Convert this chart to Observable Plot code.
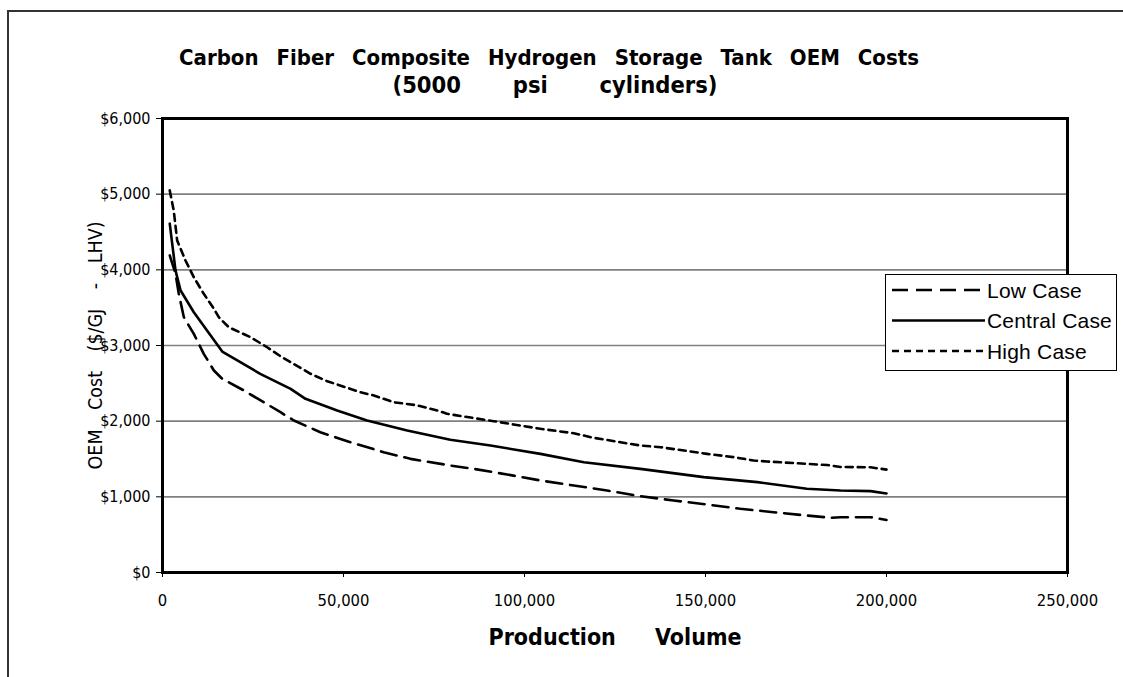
<!DOCTYPE html>
<html>
<head>
<meta charset="utf-8">
<script src="https://cdn.jsdelivr.net/npm/d3@7"></script>
<script src="https://cdn.jsdelivr.net/npm/@observablehq/plot@0.6"></script>
<style>
  html, body { margin: 0; padding: 0; background: #fff; }
  #wrap { position: relative; width: 1123px; height: 677px; overflow: hidden; background:#fff; }
  #outer { position: absolute; left: 7px; top: 10px; width: 1200px; height: 700px;
           border-left: 2px solid #333; border-top: 2px solid #333; pointer-events: none; }
  #legend { position: absolute; left: 0; top: 0; }
</style>
</head>
<body>
<div id="wrap"><div id="outer"></div></div>
<script>
// ---- data ----
const titleLines = ["Carbon Fiber Composite Hydrogen Storage Tank OEM Costs", "(5000 psi cylinders)"];
const yLabel = "OEM Cost ($/GJ - LHV)";
const xLabel = "Production Volume";
const xTicks = [0, 50000, 100000, 150000, 200000, 250000];
const yTicks = [0, 1000, 2000, 3000, 4000, 5000, 6000];
const seriesNames = ["Low Case", "Central Case", "High Case"];

const lowVolume = [2000,3600,4500,5900,8650,11400,14200,16500,22500,28000,32600,36300,43600,51900,61100,68500,79500,86000,95200,104400,113600,122800,132000,141200,150400,159600,168800,178000,184500,187300,195600,200000];
const lowCost   = [4190,3947,3683,3374,3154,2890,2669,2560,2405,2250,2118,2009,1854,1722,1590,1502,1414,1370,1295,1216,1150,1084,1008,951,899,842,797,753,723,731,731,695];

const centralVolume = [2000,3600,5000,8650,12300,16500,27000,35400,39500,48250,56500,67600,79500,90600,104400,116400,132000,149500,164300,178000,187300,195600,200000];
const centralCost   = [4610,3990,3727,3440,3198,2920,2626,2427,2295,2141,2009,1877,1754,1678,1568,1458,1370,1260,1194,1106,1084,1075,1045];

const highVolume = [2000,3100,4050,6350,8650,11400,14200,15550,18300,24300,28900,33000,40900,45500,54700,58400,63900,70300,75900,78600,83200,91500,97000,104400,113600,119100,126500,132000,137600,150400,157800,163300,167000,183600,187300,195600,200000];
const highCost   = [5050,4784,4387,4123,3902,3683,3485,3374,3242,3110,2977,2845,2626,2528,2383,2339,2250,2210,2141,2097,2062,2000,1956,1899,1840,1780,1722,1678,1656,1568,1524,1480,1467,1420,1395,1390,1360];

const dashes = {"Low Case": "16,8", "Central Case": null, "High Case": "7,5"};

function rows(name, xs, ys) { return xs.map((v, i) => ({series: name, volume: v, cost: ys[i]})); }
const low = rows("Low Case", lowVolume, lowCost);
const central = rows("Central Case", centralVolume, centralCost);
const high = rows("High Case", highVolume, highCost);

const FONT = "'DejaVu Sans Condensed', 'DejaVu Sans', sans-serif";
const fmt = d3.format(",");

const chart = Plot.plot({
  width: 1123,
  height: 677,
  marginLeft: 162,
  marginRight: 56,
  marginTop: 118,
  marginBottom: 105,
  style: {fontFamily: FONT, fontSize: "16px", color: "#000", background: "transparent", overflow: "visible"},
  x: {domain: [0, 250000]},
  y: {domain: [0, 6000]},
  marks: [
    Plot.gridY(yTicks.slice(1, -1), {stroke: "#808080", strokeOpacity: 1, strokeWidth: 1.6}),
    Plot.line(low, {x: "volume", y: "cost", stroke: "#000", strokeWidth: 2.6, strokeDasharray: dashes["Low Case"]}),
    Plot.line(central, {x: "volume", y: "cost", stroke: "#000", strokeWidth: 2.6}),
    Plot.line(high, {x: "volume", y: "cost", stroke: "#000", strokeWidth: 2.6, strokeDasharray: dashes["High Case"]}),
    Plot.frame({stroke: "#000", strokeWidth: 3}),
    Plot.axisX({ticks: xTicks, tickFormat: fmt, tickSize: 5, tickPadding: 17, label: null, fontSize: 16.5}),
    Plot.axisY({ticks: yTicks, tickFormat: d => "$" + fmt(d), tickSize: 6, tickPadding: 6, label: null, fontSize: 16}),
    Plot.text([yLabel], {frameAnchor: "left", textAnchor: "middle", dx: -67, rotate: -90, fontSize: 19.5, fill: "#000", text: d => d, className: "lab-y"}),
    Plot.text([xLabel], {frameAnchor: "bottom", dy: 72, fontSize: 23, fontWeight: "bold", fill: "#000", text: d => d, className: "lab-x"}),
    Plot.text([titleLines[0]], {frameAnchor: "top", dx: -66, dy: -69, fontSize: 22, fontWeight: "bold", fill: "#000", text: d => d, className: "lab-t1"}),
    Plot.text([titleLines[1]], {frameAnchor: "top", dx: -60, dy: -42, fontSize: 23.5, fontWeight: "bold", fill: "#000", text: d => d, className: "lab-t2"})
  ]
});
document.getElementById("wrap").appendChild(chart);
chart.style.position = "absolute";
chart.style.left = "0px";
chart.style.top = "0px";

// stretch word spacing of the labels to the reference widths
const targets = {"lab-t1": 740, "lab-t2": 325, "lab-x": 253, "lab-y": 248};
Object.entries(targets).forEach(([cls, w]) => {
  d3.select(chart).selectAll("g." + cls + " text").each(function() {
    const t = this.textContent;
    const gaps = (t.match(/ /g) || []).length;
    const len = this.getComputedTextLength();
    if (gaps > 0 && len < w) this.style.wordSpacing = ((w - len) / gaps) + "px";
  });
});

// ---- legend overlay ----
const lg = d3.select("#wrap").append("svg").attr("id", "legend")
  .attr("width", 1123).attr("height", 677).style("position", "absolute");
lg.append("rect").attr("x", 885.5).attr("y", 274.5).attr("width", 231).attr("height", 96)
  .attr("fill", "#fff").attr("stroke", "#000").attr("stroke-width", 1);
seriesNames.forEach((name, i) => {
  const cy = 290 + i * 30.5;
  const ln = lg.append("line").attr("x1", 892).attr("x2", 985).attr("y1", cy).attr("y2", cy)
    .attr("stroke", "#000").attr("stroke-width", 2.6);
  if (dashes[name]) ln.attr("stroke-dasharray", dashes[name]);
  lg.append("text").attr("x", 987).attr("y", cy).attr("dy", "0.36em")
    .attr("font-family", "'Liberation Sans', Arial, sans-serif").attr("font-size", 21)
    .attr("letter-spacing", "0.2px")
    .text(name);
});
</script>
</body>
</html>
